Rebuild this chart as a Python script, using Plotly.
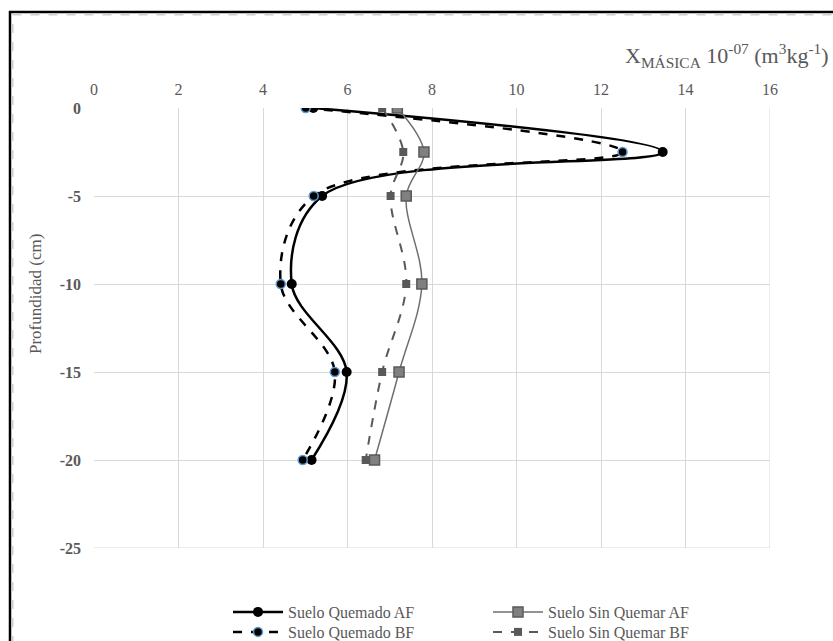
import plotly.graph_objects as go

# Depth profile (cm) and mass magnetic susceptibility (x 10^-7 m3/kg)
depth = [0, -2.5, -5, -10, -15, -20]
quemado_af = [5.19, 13.46, 5.40, 4.68, 5.98, 5.15]
quemado_bf = [5.01, 12.51, 5.20, 4.42, 5.70, 4.94]
sin_quemar_af = [7.18, 7.81, 7.39, 7.76, 7.22, 6.64]
sin_quemar_bf = [6.82, 7.32, 7.02, 7.39, 6.82, 6.43]

x_ticks = list(range(0, 17, 2))
y_ticks = [0, -5, -10, -15, -20, -25]

W, H = 833, 641
L, R, T, B = 94, 63, 108, 93
PW, PH = W - L - R, H - T - B


def px(x):
    return (x - L) / PW


def py(y):
    return (H - B - y) / PH


FONT = "Liberation Serif"
GREY = "#595959"

fig = go.Figure()

fig.add_trace(go.Scatter(
    x=quemado_af, y=depth, name="Suelo Quemado AF", mode="lines+markers",
    line=dict(color="black", width=2.5, shape="spline"),
    marker=dict(symbol="circle", size=10, color="black"),
    legend="legend", showlegend=True))
fig.add_trace(go.Scatter(
    x=quemado_bf, y=depth, name="Suelo Quemado BF", mode="lines+markers",
    line=dict(color="black", width=2.5, dash="dash", shape="spline"),
    marker=dict(symbol="circle", size=9, color="black",
                line=dict(color="#5b9bd5", width=1.5)),
    legend="legend2", showlegend=True))
fig.add_trace(go.Scatter(
    x=sin_quemar_af, y=depth, name="Suelo Sin Quemar AF", mode="lines+markers",
    line=dict(color="#6f6f6f", width=1.5, shape="spline"),
    marker=dict(symbol="square", size=10, color="#808080",
                line=dict(color="#595959", width=1.5)),
    legend="legend3", showlegend=True))
fig.add_trace(go.Scatter(
    x=sin_quemar_bf, y=depth, name="Suelo Sin Quemar BF", mode="lines+markers",
    line=dict(color="#595959", width=2, dash="dash", shape="spline"),
    marker=dict(symbol="square", size=8, color="#595959"),
    legend="legend4", showlegend=True))

legend_style = dict(
    orientation="v", font=dict(family=FONT, size=16, color=GREY),
    bgcolor="rgba(0,0,0,0)", xanchor="left", yanchor="middle",
    tracegroupgap=0, itemwidth=50)

fig.update_layout(
    width=W, height=H,
    showlegend=True,
    margin=dict(l=L, r=R, t=T, b=B, autoexpand=False),
    paper_bgcolor="white", plot_bgcolor="white",
    font=dict(family=FONT, color=GREY),
    legend=dict(x=px(228), y=py(612), **legend_style),
    legend2=dict(x=px(228), y=py(632), **legend_style),
    legend3=dict(x=px(488), y=py(612), **legend_style),
    legend4=dict(x=px(488), y=py(632), **legend_style),
    xaxis=dict(
        side="top", range=[0, 16], tickvals=x_ticks,
        ticktext=[str(v) for v in x_ticks],
        showgrid=True, gridcolor="#d9d9d9", gridwidth=1,
        zeroline=False, showline=False, ticks="",
        ticklabelstandoff=9,
        tickfont=dict(family=FONT, size=16, color=GREY)),
    yaxis=dict(
        range=[-25, 0], tickvals=y_ticks,
        ticktext=[f"<b>{v}</b>" for v in y_ticks],
        showgrid=True, gridcolor="#d9d9d9", gridwidth=1,
        zeroline=False, showline=False, ticks="",
        ticklabelstandoff=12,
        tickfont=dict(family=FONT, size=16, color=GREY)),
)

# Right edge and bottom edge of the plot frame
fig.add_shape(type="line", xref="x", yref="paper", x0=16, x1=16, y0=0, y1=1,
              line=dict(color="#d9d9d9", width=1))
fig.add_shape(type="line", xref="paper", yref="y", x0=0, x1=1, y0=-25, y1=-25,
              line=dict(color="#d9d9d9", width=1))

# Outer chart border: solid black with a dashed grey inner line
fig.add_shape(type="line", xref="paper", yref="paper",
              x0=px(10), x1=px(10), y0=py(645), y1=py(11),
              line=dict(color="black", width=2.5))
fig.add_shape(type="line", xref="paper", yref="paper",
              x0=px(9), x1=px(840), y0=py(12), y1=py(12),
              line=dict(color="black", width=2.5))
fig.add_shape(type="line", xref="paper", yref="paper",
              x0=px(12.5), x1=px(12.5), y0=py(645), y1=py(14.5),
              line=dict(color="#d0d0d0", width=2, dash="dash"))
fig.add_shape(type="line", xref="paper", yref="paper",
              x0=px(12.5), x1=px(840), y0=py(14.5), y1=py(14.5),
              line=dict(color="#d0d0d0", width=2, dash="dash"))

# Axis titles
fig.add_annotation(
    xref="paper", yref="paper", x=px(831), y=py(55), xanchor="right", yanchor="middle",
    showarrow=False,
    text="X<sub>MÁSICA</sub> 10<sup>-07</sup> (m<sup>3</sup>kg<sup>-1</sup>)",
    font=dict(family=FONT, size=22, color=GREY))
fig.add_annotation(
    xref="paper", yref="paper", x=px(35), y=py(294), xanchor="center", yanchor="middle",
    showarrow=False, textangle=-90, text="Profundidad (cm)",
    font=dict(family=FONT, size=17, color=GREY))

fig.write_html("out.html")
